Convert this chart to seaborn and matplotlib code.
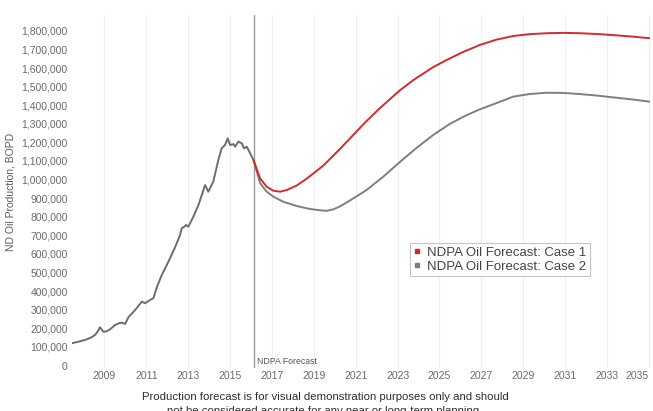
import matplotlib
matplotlib.use("Agg")
import matplotlib.pyplot as plt
import matplotlib.transforms as mtransforms
from matplotlib.lines import Line2D
from matplotlib.ticker import FuncFormatter
import numpy as np
import pandas as pd
import seaborn as sns

# ---------------- data ----------------
hist_t = [2007.44, 2007.75, 2008.08, 2008.35, 2008.56, 2008.72, 2008.79, 2008.95, 2009.10,
          2009.27, 2009.51, 2009.70, 2009.83, 2009.99, 2010.15, 2010.47, 2010.79, 2010.94,
          2011.18, 2011.34, 2011.50, 2011.74, 2011.90, 2012.06, 2012.37, 2012.61, 2012.69,
          2012.80, 2012.90, 2013.01, 2013.25, 2013.49, 2013.65, 2013.81, 2013.96, 2014.20,
          2014.44, 2014.60, 2014.76, 2014.89, 2015.00, 2015.16, 2015.24, 2015.40, 2015.56,
          2015.67, 2015.80, 2015.96, 2016.12]
hist_v = [120, 128, 138, 150, 165, 190, 206, 182, 184,
          195, 218, 228, 231, 224, 260, 299, 344, 335,
          353, 362, 420, 487, 523, 559, 635, 700, 738,
          745, 756, 747, 801, 863, 917, 971, 935, 989,
          1105, 1168, 1186, 1222, 1186, 1191, 1177, 1204, 1195,
          1168, 1177, 1141, 1105]

case1_t = [2016.12, 2016.44, 2016.75, 2017.07, 2017.39, 2017.71, 2018.18, 2018.66, 2019.45,
           2020.25, 2021.05, 2021.52, 2022.16, 2023.11, 2023.75, 2024.70, 2025.34, 2026.10,
           2026.93, 2027.70, 2028.52, 2029.30, 2030.11, 2030.90, 2031.70, 2032.50, 2033.29,
           2034.20, 2035.05]
case1_v = [1105, 1005, 962, 940, 935, 944, 968, 1005, 1075,
           1165, 1260, 1315, 1385, 1480, 1535, 1605, 1643, 1685,
           1724, 1752, 1772, 1782, 1787, 1789, 1787, 1783, 1777,
           1769, 1760]

case2_t = [2016.12, 2016.44, 2016.75, 2017.07, 2017.54, 2018.18, 2018.81, 2019.30, 2019.60,
           2019.93, 2020.25, 2020.73, 2021.52, 2022.32, 2023.11, 2023.90, 2024.70, 2025.50,
           2026.30, 2026.93, 2027.90, 2028.52, 2029.30, 2030.11, 2030.90, 2031.70, 2032.50,
           2033.29, 2034.20, 2035.05]
case2_v = [1105, 980, 935, 908, 881, 858, 842, 835, 832,
           840, 856, 888, 944, 1016, 1095, 1170, 1240, 1300,
           1347, 1378, 1419, 1446, 1460, 1467, 1466, 1460, 1452,
           1442, 1431, 1419]

forecast_start = 2016.12
year_ticks = list(range(2009, 2036, 2))
year_labels = [str(y) for y in year_ticks]
legend_labels = ["NDPA Oil Forecast: Case 1", "NDPA Oil Forecast: Case 2"]
y_label = "ND Oil Production, BOPD"
footer_1 = "Production forecast is for visual demonstration purposes only and should"
footer_2 = "not be considered accurate for any near or long-term planning."

# ---------------- style ----------------
sns.set_style("white")
plt.rcParams["font.family"] = ["Liberation Sans", "DejaVu Sans"]

W, H = 653, 411
fig = plt.figure(figsize=(W / 100, H / 100), dpi=100)
ax = fig.add_axes([71.7 / W, (H - 368) / H, (650 - 71.7) / W, (368 - 15) / H])

hist = pd.DataFrame({"t": hist_t, "v": np.array(hist_v) * 1000})
c1 = pd.DataFrame({"t": case1_t, "v": np.array(case1_v) * 1000})
c2 = pd.DataFrame({"t": case2_t, "v": np.array(case2_v) * 1000})

sns.lineplot(data=hist, x="t", y="v", ax=ax, color="#6d6d6d", lw=1.4, sort=False)
sns.lineplot(data=c2, x="t", y="v", ax=ax, color="#7f7f7f", lw=1.4, sort=False)
sns.lineplot(data=c1, x="t", y="v", ax=ax, color="#d42a2f", lw=1.4, sort=False)

ax.axvline(forecast_start, color="#9a9a9a", lw=1.0, zorder=1)
trans = mtransforms.blended_transform_factory(ax.transData, ax.transAxes)
ax.annotate("NDPA Forecast", xy=(forecast_start, 0.018), xycoords=trans,
            xytext=(2.5, 0), textcoords="offset points", va="center", ha="left",
            fontsize=6.3, color="#555555")

ax.set_xlim(2007.44, 2035.05)
ax.set_ylim(-13000, 1885000)
ax.set_xticks(year_ticks)
ax.set_xticklabels(year_labels)
ax.get_xticklabels()[-1].set_horizontalalignment("right")
ax.set_yticks(np.arange(0, 1800001, 100000))
ax.yaxis.set_major_formatter(FuncFormatter(lambda v, p: f"{int(v):,}"))
ax.tick_params(axis="both", length=0, labelsize=7.5, labelcolor="#6a6a6a")
ax.tick_params(axis="x", pad=2.5)
ax.tick_params(axis="y", pad=2.8)

ax.grid(axis="x", color="#efefef", lw=0.8)
ax.grid(axis="y", visible=False)
for s in ax.spines.values():
    s.set_visible(False)

ax.set_xlabel("")
ax.set_ylabel(y_label, fontsize=7.5, color="#5a5a5a")
ax.yaxis.set_label_coords((15 - 71.7) / (650 - 71.7), 0.5)

handles = [Line2D([], [], ls="none", marker="s", markersize=3.2, color="#d42a2f"),
           Line2D([], [], ls="none", marker="s", markersize=3.2, color="#7f7f7f")]
leg = fig.legend(handles, legend_labels, loc="upper left",
                 bbox_to_anchor=(410 / W, 1 - 243 / H), borderaxespad=0,
                 fontsize=9.5, frameon=True, fancybox=False, framealpha=1,
                 edgecolor="#c4c4c4", handlelength=0.6, handletextpad=0.45,
                 borderpad=0.25, labelspacing=0.15)
leg.get_frame().set_linewidth(0.8)
for t in leg.get_texts():
    t.set_color("#444444")

fig.text(325 / W, 1 - 397 / H, footer_1, ha="center", va="center", fontsize=8.2, color="#2e2e2e")
fig.text(325 / W, 1 - 411 / H, footer_2, ha="center", va="center", fontsize=8.2, color="#2e2e2e")

fig.savefig("out.png", dpi=100)
